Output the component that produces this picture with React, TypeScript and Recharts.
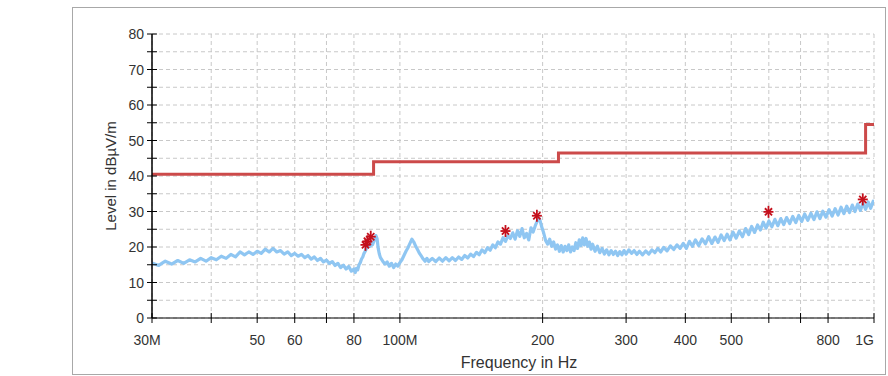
import { CartesianGrid, ComposedChart, Line, Scatter, XAxis, YAxis } from 'recharts'

// measured trace: [frequency MHz, level dBµV/m]
const trace: [number, number][] = [
  [30, 15.5], [31, 14.8], [32, 16.0], [33, 15.2], [34, 16.2], [35, 15.4], [36, 16.4], [37, 15.8],
  [38, 16.8], [39, 16.0], [40, 17.0], [41, 16.4], [42, 17.4], [43, 16.8], [44, 17.9], [45, 17.2],
  [46, 18.6], [47, 17.8], [48, 18.6], [49, 17.9], [50, 18.8], [51, 18.2], [52, 19.4], [53, 18.6],
  [54, 19.6], [55, 18.6], [56, 19.0], [57, 18.0], [58, 18.6], [59, 17.6], [60, 18.2], [61, 17.4],
  [62, 17.9], [63, 17.0], [64, 17.6], [65, 16.6], [66, 17.2], [67, 16.2], [68, 16.8], [69, 15.8],
  [70, 16.3], [71, 15.4], [72, 15.9], [73, 14.8], [74, 15.4], [75, 14.2], [76, 14.9], [77, 13.8],
  [78, 14.5], [79, 13.2], [80, 13.8], [80.5, 12.8], [81, 14.0], [81.5, 13.6], [82, 15.0], [82.5, 15.6],
  [83, 16.6], [83.5, 17.2], [84, 18.2], [84.5, 18.8], [85, 19.6], [85.5, 19.9], [86, 20.6], [86.5, 20.2],
  [87, 21.0], [87.5, 20.6], [88, 21.4], [88.5, 22.2], [89, 23.2], [89.5, 22.4], [90, 19.6], [90.5, 18.0],
  [91, 17.0], [92, 16.0], [93, 15.2], [94, 15.8], [95, 14.6], [96, 15.4], [97, 14.2], [98, 15.2],
  [99, 14.6], [100, 15.6], [101, 16.4], [102, 17.6], [103, 18.8], [104, 19.8], [105, 21.0], [106, 22.2],
  [107, 21.4], [108, 20.2], [109, 19.2], [110, 18.2], [111, 17.4], [112, 16.6], [113, 16.0], [114, 16.8],
  [115, 15.9], [117, 16.8], [119, 15.9], [121, 16.9], [123, 16.0], [125, 17.0], [127, 16.1], [129, 17.0],
  [131, 16.2], [133, 17.2], [135, 16.5], [137, 17.6], [139, 16.9], [141, 18.0], [143, 17.3], [145, 18.5],
  [147, 17.8], [149, 19.2], [151, 18.4], [153, 19.8], [155, 19.1], [157, 20.6], [159, 19.8], [161, 21.4],
  [163, 20.8], [165, 22.6], [167, 21.6], [169, 23.2], [171, 22.4], [173, 24.0], [175, 22.2], [177, 24.6],
  [179, 23.0], [181, 25.2], [183, 22.6], [185, 23.8], [187, 22.0], [189, 25.4], [191, 24.2], [193, 26.0],
  [195, 27.4], [197, 28.0], [199, 25.8], [201, 24.0], [203, 21.8], [205, 20.8], [207, 22.2], [209, 20.2],
  [211, 21.4], [213, 19.4], [215, 20.6], [217, 18.8], [219, 20.4], [221, 18.6], [223, 20.2], [225, 19.0],
  [227, 20.6], [229, 18.6], [231, 20.0], [233, 19.0], [235, 21.2], [237, 19.6], [239, 22.0], [241, 20.4],
  [243, 22.6], [245, 20.6], [247, 22.4], [249, 20.2], [251, 21.4], [253, 19.4], [255, 20.8], [258, 18.8],
  [261, 20.2], [264, 18.4], [267, 19.6], [270, 18.0], [273, 19.2], [276, 17.8], [279, 19.0], [282, 17.9],
  [285, 18.8], [288, 17.6], [291, 18.7], [294, 17.8], [297, 19.0], [300, 18.0], [304, 19.2], [308, 18.2],
  [312, 19.0], [316, 17.9], [320, 18.8], [325, 17.8], [330, 18.9], [335, 18.0], [340, 19.2], [345, 18.4],
  [350, 19.6], [355, 18.6], [360, 19.9], [366, 18.9], [372, 20.3], [378, 19.3], [384, 20.6], [390, 19.6],
  [396, 21.0], [402, 19.6], [408, 21.6], [414, 20.2], [420, 22.0], [427, 20.4], [434, 22.3], [441, 20.9],
  [448, 22.9], [455, 21.0], [462, 22.8], [469, 21.3], [476, 23.4], [483, 21.8], [490, 23.6], [497, 22.0],
  [504, 24.2], [512, 22.5], [520, 24.5], [528, 22.9], [536, 25.2], [544, 23.5], [552, 25.8], [560, 24.1],
  [568, 26.2], [576, 24.8], [584, 27.0], [592, 25.3], [600, 27.3], [609, 25.7], [618, 27.8], [627, 26.0],
  [636, 28.0], [645, 26.3], [654, 28.3], [664, 26.6], [674, 28.6], [684, 26.9], [694, 28.9], [704, 27.2],
  [714, 29.3], [725, 27.5], [736, 29.5], [747, 27.7], [758, 29.9], [769, 28.0], [780, 30.1], [792, 28.4],
  [804, 30.5], [816, 28.7], [828, 30.8], [840, 29.0], [852, 31.2], [864, 29.4], [876, 31.5], [888, 29.7],
  [900, 31.8], [912, 30.0], [924, 32.1], [936, 30.3], [948, 32.4], [960, 30.6], [972, 32.7], [984, 30.9],
  [996, 32.9], [1000, 31.8],
]

const limitFreq = [30, 88, 216, 960, 1000]
const limitLevel = [40.5, 44, 46.5, 54.5, 54.5]

const peakFreq = [84.6, 85.4, 86.8, 167, 194.5, 599, 947]
const peakLevel = [20.6, 21.6, 22.9, 24.5, 28.8, 29.9, 33.4]

const xTicks = [30, 40, 50, 60, 70, 80, 100, 200, 300, 400, 500, 600, 700, 800, 1000]
const xTickLabels: Record<number, string> = {
  30: '30M', 50: '50', 60: '60', 80: '80', 100: '100M', 200: '200',
  300: '300', 400: '400', 500: '500', 800: '800', 1000: '1G',
}
const yTicks = [0, 5, 10, 15, 20, 25, 30, 35, 40, 45, 50, 55, 60, 65, 70, 75, 80]

const traceData = trace.map(([f, v]) => ({ f, v }))
const limitData = limitFreq.map((f, i) => ({ f, v: limitLevel[i] }))
const peakData = peakFreq.map((f, i) => ({ f, v: peakLevel[i] }))

const FONT = '"Liberation Sans", Arial, sans-serif'

function XTick({ x, y, payload }: any) {
  const label = xTickLabels[payload.value]
  let anchor: 'middle' | 'end' = 'middle'
  let dx = 0
  if (payload.value === 1000) anchor = 'end'
  if (payload.value === 30) dx = -5
  return (
    <g>
      <line x1={x} x2={x} y1={y - 5} y2={y + 5} stroke="#000" strokeWidth={1} />
      {label && (
        <text x={x + dx} y={y + 27} textAnchor={anchor} fontSize={14} fill="#333" fontFamily={FONT}>
          {label}
        </text>
      )}
    </g>
  )
}

function YTick({ x, y, payload }: any) {
  const show = payload.value % 10 === 0
  return (
    <g>
      <line x1={x - 5} x2={x + 5} y1={y} y2={y} stroke="#000" strokeWidth={1} />
      {show && (
        <text x={x - 8} y={y + 5} textAnchor="end" fontSize={14} fill="#333" fontFamily={FONT}>
          {payload.value}
        </text>
      )}
    </g>
  )
}

function Asterisk({ cx, cy }: any) {
  const r = 5
  const d = 3.6
  return (
    <g stroke="#c4101c" strokeWidth={1.8}>
      <line x1={cx} x2={cx} y1={cy - r - 1} y2={cy + r + 1} />
      <line x1={cx - r} x2={cx + r} y1={cy} y2={cy} />
      <line x1={cx - d} x2={cx + d} y1={cy - d} y2={cy + d} />
      <line x1={cx - d} x2={cx + d} y1={cy + d} y2={cy - d} />
    </g>
  )
}

export default function App() {
  return (
    <div style={{ position: 'absolute', left: 0, top: 0, width: 888, height: 376, background: '#fff' }}>
      <div style={{ position: 'absolute', left: 0, top: 0 }}>
        <ComposedChart width={888} height={376} margin={{ top: 34, right: 14, bottom: 0, left: 0 }}>
          <CartesianGrid stroke="#c8c8c8" strokeDasharray="4 3" />
          <XAxis
            dataKey="f"
            type="number"
            scale="log"
            domain={[30, 1000]}
            ticks={xTicks}
            allowDataOverflow
            height={58}
            tickSize={0}
            tickMargin={0}
            tickLine={false}
            axisLine={{ stroke: '#000' }}
            tick={XTick}
            interval={0}
          />
          <YAxis
            dataKey="v"
            type="number"
            domain={[0, 80]}
            ticks={yTicks}
            width={152}
            tickSize={0}
            tickMargin={0}
            tickLine={false}
            axisLine={{ stroke: '#000', strokeWidth: 1.5 }}
            tick={YTick}
            interval={0}
          />
          <Line
            data={traceData}
            dataKey="v"
            stroke="#8fc6f2"
            strokeWidth={3.2}
            strokeLinejoin="round"
            dot={false}
            isAnimationActive={false}
          />
          <Line
            data={limitData}
            dataKey="v"
            type="stepAfter"
            stroke="#cc4a4a"
            strokeWidth={3}
            dot={false}
            isAnimationActive={false}
          />
          <Scatter data={peakData} dataKey="v" shape={Asterisk} isAnimationActive={false} />
        </ComposedChart>
      </div>
      <div
        style={{
          position: 'absolute', left: 72, top: 7, width: 812, height: 366,
          border: '1px solid #a8a8a8', pointerEvents: 'none',
        }}
      />
      <div
        style={{
          position: 'absolute', left: 110, top: 176, transform: 'translate(-50%, -50%) rotate(-90deg)',
          fontFamily: FONT, fontSize: 15, color: '#333', whiteSpace: 'nowrap',
        }}
      >
        Level in dBµV/m
      </div>
      <div
        style={{
          position: 'absolute', left: 519, top: 363, transform: 'translate(-50%, -50%)',
          fontFamily: FONT, fontSize: 16, color: '#333', whiteSpace: 'nowrap',
        }}
      >
        Frequency in Hz
      </div>
    </div>
  )
}
